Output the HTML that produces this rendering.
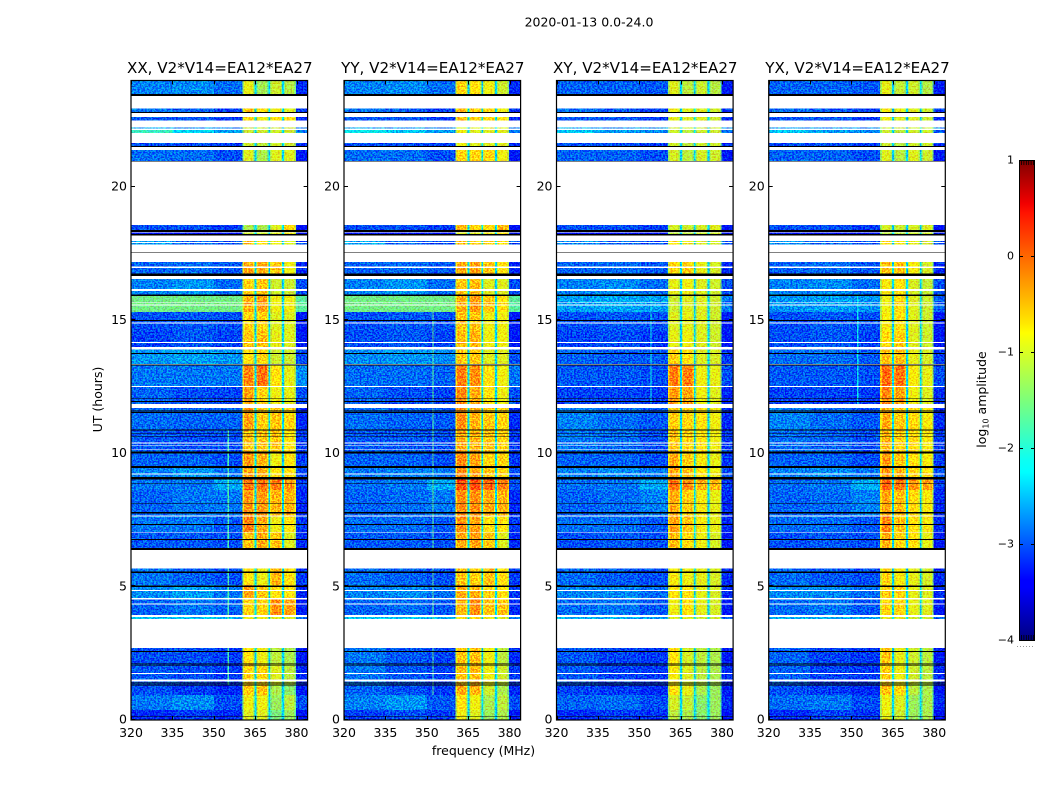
<!DOCTYPE html>
<html lang="en">
<head>
<meta charset="utf-8">
<title>2020-01-13 0.0-24.0</title>
<style>
html,body{margin:0;padding:0;background:#fff;width:1050px;height:800px;overflow:hidden}
svg{display:block}
text{font-family:"DejaVu Sans","Liberation Sans",sans-serif;fill:#000}
</style>
</head>
<body>
<svg id="figure" xmlns="http://www.w3.org/2000/svg" width="1050" height="800" viewBox="0 0 1050 800">
  <rect width="1050" height="800" fill="#fff"/>
  <defs>
    <linearGradient id="jet-gradient" x1="0" y1="1" x2="0" y2="0">
      <stop offset="0" stop-color="#000080"/>
      <stop offset="0.11" stop-color="#0000ff"/>
      <stop offset="0.125" stop-color="#0000ff"/>
      <stop offset="0.35" stop-color="#00ffff"/>
      <stop offset="0.375" stop-color="#0dfff2"/>
      <stop offset="0.5" stop-color="#7dff7a"/>
      <stop offset="0.64" stop-color="#ffff00"/>
      <stop offset="0.66" stop-color="#ffe800"/>
      <stop offset="0.89" stop-color="#ff1300"/>
      <stop offset="0.91" stop-color="#f10000"/>
      <stop offset="1" stop-color="#800000"/>
    </linearGradient>
  </defs>
  <text x="589" y="26.5" text-anchor="middle" font-size="12.5">2020-01-13 0.0-24.0</text>
  <text x="483.5" y="755" text-anchor="middle" font-size="12.5">frequency (MHz)</text>
  <text transform="translate(102,399.5) rotate(-90)" text-anchor="middle" font-size="12.5">UT (hours)</text>
  <text transform="translate(986,399.5) rotate(-90)" text-anchor="middle" font-size="12.5">log<tspan font-size="8" dy="2.5">10</tspan><tspan dy="-2.5"> amplitude</tspan></text>
  <g id="panels"></g>
  <g id="colorbar"></g>
</svg>
<script>
// Values (log10 amplitude).
const panelTitles = ["XX, V2*V14=EA12*EA27", "YY, V2*V14=EA12*EA27", "XY, V2*V14=EA12*EA27", "YX, V2*V14=EA12*EA27"];
const freqTicks = [320, 335, 350, 365, 380];
const hourTicks = [0, 5, 10, 15, 20];
const colorTicks = [1, 0, -1, -2, -3, -4];

// Time ranges holding data (hours); anything else is a white gap.
const timeBands = [
[0.0,0.36],[0.36,0.92],[0.92,1.29],[1.29,2.08],[2.08,2.68],[3.77,3.84],[3.92,4.56],
[4.56,5.05],[5.05,5.67],[6.44,7.04],[7.04,7.64],[7.64,8.61],[8.61,9.02],[9.10,9.51],
[9.51,10.0],[10.0,10.86],[10.86,11.69],[11.84,12.51],[12.51,13.28],[13.34,13.90],
[13.90,14.58],[14.58,15.30],[15.30,15.90],[15.94,16.53],[16.74,17.17],[17.82,17.96],
[18.22,18.27],[18.36,18.56],[20.96,21.37],[21.52,21.63],[22.01,22.12],[22.18,22.22],
[22.47,22.60],[22.80,22.93],[23.47,23.95]
];
// Thin blank and flagged (black) integrations, hours.
const blankTimes = [
[16.94,16.99],[16.07,16.16],[15.62,15.65],[15.54,15.58],[14.85,14.89],[14.13,14.17],
[13.89,13.97],[12.48,12.51],[10.35,10.39],[10.26,10.29],[10.11,10.14],[9.19,9.24],
[7.62,7.66],[6.99,7.02],[4.82,4.86],[4.51,4.55],[4.32,4.36],[1.70,1.74],[1.43,1.51],[17.88,17.91]
];
const flaggedTimes = [
[22.75,22.80],[23.40,23.47],[21.48,21.52],[20.93,20.96],[18.29,18.36],[18.17,18.22],
[17.52,17.54],[16.65,16.74],[15.90,15.94],[14.95,14.99],[13.72,13.75],[13.28,13.33],
[12.02,12.05],[11.91,11.95],[11.56,11.60],[11.51,11.54],[10.85,10.89],[10.71,10.74],
[10.61,10.64],[9.99,10.05],[9.44,9.51],[9.01,9.10],[8.85,8.88],[8.10,8.12],[7.75,7.78],
[7.71,7.73],[7.30,7.34],[6.74,6.77],[6.36,6.44],[5.50,5.55],[4.98,5.03],[2.53,2.57],
[2.07,2.11],[2.00,2.03],[1.36,1.38],[1.28,1.31],[0.11,0.14]
];

// Frequency segments (MHz) and which level column each one shows.
const segStart =  [320,335,350,360.4,361,364.2,364.7,365.4,365.9,369.3,369.8,370.4,370.9,374.3,374.8,375.4,375.9,379.2,379.8];
const segEnd =    [335,350,360.4,361,364.2,364.7,365.4,365.9,369.3,369.8,370.4,370.9,374.3,374.8,375.4,375.9,379.2,379.8,384];
const segColumn = [0,1,2,3,3,3,-1,4,4,4,-1,5,5,5,-1,6,6,6,7];
const segDrop =   [0,0,0,0.45,0,0.35,0,0.35,0,0.35,0,0.35,0,0.35,0,0.35,0,0.4,0];
const notchLevel = -2.3;

// Columns: bg 320-335, bg 335-350, bg 350-360, sub-band 1..4, tail 380-384. One row per time band.
const levelsXX = [
[-3.2,-3.1,-3.2,-.9,-.9,-1.5,-1.3,-3.4],[-2.8,-2.7,-3.0,-.8,-.8,-1.3,-1.1,-3.0],[-3.0,-3.1,-3.2,-.55,-.5,-1.2,-1.4,-3.3],
[-2.95,-3.0,-3.1,-.6,-.6,-.9,-1.1,-3.2],[-3.0,-3.0,-3.1,-.7,-.8,-1.1,-1.2,-3.3],[-2.4,-2.4,-2.5,-.8,-.8,-.9,-.9,-2.8],
[-2.9,-2.8,-2.9,-.6,-.6,-.2,-.3,-3.3],[-2.7,-2.6,-2.8,-.3,-.5,-.7,-.7,-3.2],[-2.8,-2.9,-3.0,-.7,-.8,-.4,-.7,-3.1],
[-2.95,-2.95,-3.0,-.5,-.35,-.5,-.9,-3.2],[-2.8,-2.8,-2.95,-.1,-.35,-.8,-.7,-3.1],[-2.9,-2.8,-2.8,-.25,-.25,-.4,-.4,-3.2],
[-2.8,-2.8,-2.55,-.05,-.05,-.1,-.25,-3.1],[-2.75,-2.65,-2.8,-.3,-.4,-.7,-.7,-3.0],[-2.9,-2.9,-3.0,-.25,-.4,-.8,-.7,-3.1],
[-2.95,-3.0,-3.0,-.5,-.5,-.5,-.7,-3.1],[-2.85,-2.9,-2.9,-.3,-.55,-.5,-.6,-3.2],[-2.9,-3.0,-3.05,-.3,-.6,-.8,-.85,-3.0],
[-2.8,-2.8,-2.8,-.15,-.05,-.7,-.85,-2.7],[-2.65,-2.6,-2.65,-.7,-.6,-1.0,-1.0,-3.0],[-3.05,-2.95,-3.05,-.5,-.45,-.85,-.9,-3.3],
[-3.0,-2.95,-3.0,-.6,-.6,-.9,-.9,-3.3],[-1.55,-1.55,-1.55,-.4,-.3,-.8,-.8,-1.7],[-2.75,-2.65,-2.85,-.6,-.5,-1.0,-1.0,-3.0],
[-2.9,-2.85,-2.95,-.35,-.35,-.5,-.8,-3.2],[-2.6,-2.9,-3.0,-.5,-.7,-.8,-.9,-3.0],[-3.5,-3.5,-3.5,-1.0,-1.0,-.9,-.8,-3.6],
[-3.0,-3.0,-3.1,-1.2,-1.2,-.9,-.6,-3.4],[-2.85,-2.85,-3.0,-.9,-1.2,-.9,-.9,-3.3],[-3.0,-3.0,-3.1,-1.0,-1.1,-1.0,-1.0,-3.2],
[-1.9,-2.3,-2.6,-1.0,-1.0,-1.0,-1.0,-2.8],[-2.6,-2.7,-2.7,-1.0,-1.0,-1.0,-1.0,-2.8],[-2.95,-2.95,-3.1,-.6,-.8,-.7,-.7,-3.2],
[-2.8,-2.9,-3.05,-.5,-.7,-.8,-.9,-3.1],[-2.75,-2.7,-2.85,-.85,-1.25,-1.0,-1.15,-3.2]
];
const levelsYY = [
[-3.1,-3.0,-3.1,-.8,-.9,-1.3,-1.2,-3.3],[-2.75,-2.65,-2.95,-.7,-.8,-1.2,-1.1,-3.0],[-2.9,-3.0,-3.1,-.35,-.4,-1.0,-1.2,-3.2],
[-2.8,-2.95,-3.05,-.45,-.45,-.8,-1.0,-3.1],[-2.8,-2.95,-3.05,-.5,-.45,-.8,-1.1,-3.2],[-2.4,-2.4,-2.5,-.7,-.7,-.8,-.9,-2.8],
[-2.9,-2.85,-2.95,-.4,-.2,-.5,-.5,-3.2],[-2.75,-2.7,-2.85,-.35,-.4,-.6,-.7,-3.1],[-2.85,-2.9,-3.0,-.5,-.6,-.5,-.7,-3.1],
[-2.95,-2.95,-3.0,-.35,-.3,-.5,-.9,-3.2],[-2.85,-2.85,-2.95,-.2,-.3,-.7,-.7,-3.1],[-2.9,-2.85,-2.8,-.2,-.2,-.35,-.4,-3.2],
[-2.85,-2.8,-2.55,.15,.15,.05,-.1,-3.0],[-2.8,-2.75,-2.8,-.15,-.3,-.5,-.6,-3.0],[-2.9,-2.9,-3.0,-.15,-.3,-.6,-.6,-3.1],
[-2.95,-2.95,-3.0,-.35,-.4,-.5,-.6,-3.1],[-2.85,-2.9,-2.95,-.2,-.4,-.5,-.6,-3.2],[-2.9,-3.0,-3.05,-.15,-.35,-.7,-.8,-3.0],
[-2.85,-2.85,-2.9,-.1,-.2,-.7,-.8,-2.8],[-2.7,-2.65,-2.7,-.5,-.5,-.9,-.9,-3.0],[-3.0,-2.95,-3.05,-.45,-.4,-.8,-.8,-3.3],
[-3.0,-2.95,-3.0,-.5,-.5,-.8,-.8,-3.3],[-1.55,-1.55,-1.55,-.35,-.25,-.5,-.7,-1.7],[-2.75,-2.65,-2.85,-.5,-.45,-.9,-.9,-3.0],
[-2.9,-2.85,-2.95,-.3,-.3,-.5,-.7,-3.2],[-2.6,-2.9,-3.0,-.4,-.5,-.6,-.7,-3.0],[-3.5,-3.5,-3.5,-.9,-.9,-.8,-.7,-3.6],
[-3.0,-3.0,-3.1,-.4,-.6,-.6,-.4,-3.4],[-2.85,-2.85,-3.0,-.6,-.6,-.6,-.8,-3.3],[-3.0,-3.0,-3.1,-.8,-.9,-.9,-.9,-3.2],
[-2.2,-2.4,-2.6,-.8,-.9,-.9,-.9,-2.8],[-2.6,-2.7,-2.7,-.9,-.9,-.9,-.9,-2.8],[-2.95,-2.95,-3.1,-.45,-.6,-.6,-.7,-3.2],
[-2.8,-2.9,-3.05,-.4,-.5,-.6,-.8,-3.1],[-2.75,-2.7,-2.85,-.6,-.7,-.8,-1.0,-3.2]
];
const levelsXY = [
[-3.2,-3.1,-3.15,-1.1,-1.2,-1.4,-1.3,-3.4],[-2.9,-2.85,-3.0,-.95,-1.05,-1.4,-1.3,-3.2],[-3.05,-3.1,-3.2,-.7,-.85,-1.2,-1.3,-3.3],
[-2.95,-3.05,-3.1,-.75,-.9,-1.1,-1.2,-3.2],[-2.95,-3.05,-3.1,-.7,-.95,-1.1,-1.2,-3.3],[-2.5,-2.5,-2.6,-.9,-.9,-1.0,-1.0,-2.9],
[-2.85,-2.8,-2.95,-.8,-.7,-.85,-.95,-3.3],[-2.75,-2.7,-2.85,-.7,-.7,-.85,-.95,-3.2],[-2.85,-2.95,-3.0,-.75,-.8,-.85,-.95,-3.2],
[-3.0,-2.95,-3.0,-.45,-.65,-.8,-.95,-3.3],[-2.85,-2.85,-2.95,-.3,-.5,-.75,-.85,-3.2],[-2.9,-2.85,-2.75,-.35,-.55,-.75,-.85,-3.2],
[-2.85,-2.8,-2.55,-.05,-.15,-.4,-.45,-3.1],[-2.75,-2.7,-2.8,-.3,-.5,-.7,-.8,-3.0],[-2.9,-2.9,-3.0,-.35,-.55,-.75,-.85,-3.1],
[-2.8,-2.85,-3.0,-.5,-.6,-.7,-.8,-3.1],[-2.75,-2.85,-2.95,-.55,-.6,-.7,-.8,-3.2],[-3.05,-3.05,-3.1,-.25,-.3,-.8,-.9,-3.2],
[-2.95,-2.95,-3.0,-.1,-.1,-.8,-.85,-3.0],[-2.9,-2.95,-2.95,-.55,-.7,-.9,-.95,-3.1],[-3.05,-3.0,-3.1,-.85,-.8,-.9,-1.0,-3.3],
[-3.0,-2.95,-3.0,-.9,-.85,-.9,-1.0,-3.3],[-2.6,-2.55,-2.6,-1.0,-.9,-.9,-1.0,-2.8],[-2.75,-2.7,-2.85,-.85,-.8,-.9,-1.0,-3.0],
[-2.9,-2.85,-2.95,-.6,-.55,-.85,-.95,-3.2],[-2.7,-2.9,-3.0,-.7,-.8,-.9,-.95,-3.0],[-3.5,-3.5,-3.5,-1.1,-1.1,-1.0,-1.0,-3.6],
[-3.0,-3.0,-3.1,-.95,-1.0,-.95,-.9,-3.4],[-2.9,-2.9,-3.0,-.95,-1.1,-.95,-1.0,-3.3],[-3.0,-3.0,-3.1,-1.0,-1.1,-1.0,-1.0,-3.2],
[-2.4,-2.6,-2.7,-1.0,-1.1,-1.0,-1.0,-2.9],[-2.6,-2.7,-2.7,-1.0,-1.0,-1.0,-1.0,-2.8],[-2.95,-2.95,-3.1,-.85,-.9,-.9,-1.0,-3.2],
[-2.85,-2.95,-3.05,-.8,-.9,-.9,-1.0,-3.1],[-2.9,-2.9,-2.95,-.9,-1.1,-1.0,-1.15,-3.3]
];
const levelsYX = [
[-3.2,-3.05,-3.15,-.85,-1.0,-1.3,-1.2,-3.4],[-2.85,-2.8,-3.0,-.8,-.9,-1.3,-1.2,-3.2],[-3.0,-3.1,-3.2,-.45,-.6,-1.1,-1.2,-3.3],
[-2.9,-3.05,-3.1,-.55,-.8,-1.0,-1.1,-3.2],[-2.9,-3.05,-3.1,-.5,-.85,-1.0,-1.1,-3.3],[-2.5,-2.5,-2.6,-.85,-.85,-1.0,-1.0,-2.9],
[-2.85,-2.8,-2.95,-.6,-.6,-.85,-.9,-3.3],[-2.7,-2.7,-2.85,-.55,-.6,-.85,-.9,-3.2],[-2.85,-2.95,-3.0,-.6,-.75,-.85,-.95,-3.2],
[-3.0,-2.95,-3.0,-.35,-.6,-.7,-.85,-3.3],[-2.85,-2.85,-2.95,-.15,-.45,-.7,-.75,-3.2],[-2.9,-2.85,-2.75,-.3,-.45,-.65,-.75,-3.2],
[-2.85,-2.8,-2.55,.05,-.05,-.25,-.3,-3.1],[-2.75,-2.7,-2.8,-.2,-.4,-.6,-.7,-3.0],[-2.9,-2.9,-3.0,-.25,-.5,-.7,-.75,-3.1],
[-2.85,-2.9,-3.0,-.4,-.55,-.65,-.75,-3.1],[-2.75,-2.85,-2.95,-.35,-.5,-.65,-.75,-3.2],[-3.05,-3.05,-3.1,-.15,-.3,-.8,-.9,-3.2],
[-2.95,-2.95,-3.0,0,-.05,-.75,-.85,-3.0],[-2.85,-2.85,-2.95,-.45,-.45,-.85,-.95,-3.1],[-3.0,-2.95,-3.05,-.65,-.55,-.9,-1.0,-3.3],
[-3.0,-2.95,-3.0,-.75,-.7,-.9,-1.0,-3.3],[-2.65,-2.6,-2.65,-.8,-.65,-.9,-1.0,-2.9],[-2.75,-2.7,-2.85,-.75,-.7,-.95,-1.05,-3.0],
[-2.9,-2.85,-2.95,-.45,-.45,-.75,-.95,-3.2],[-2.7,-2.9,-3.0,-.65,-.75,-.85,-.95,-3.0],[-3.5,-3.5,-3.5,-1.1,-1.1,-1.0,-1.0,-3.6],
[-3.0,-3.0,-3.1,-.95,-1.0,-.95,-.9,-3.4],[-2.9,-2.9,-3.0,-.9,-1.1,-.9,-1.0,-3.3],[-3.0,-3.0,-3.1,-1.0,-1.1,-1.0,-1.0,-3.2],
[-2.4,-2.6,-2.7,-1.0,-1.1,-1.0,-1.0,-2.9],[-2.6,-2.7,-2.7,-1.0,-1.0,-1.0,-1.0,-2.8],[-2.95,-2.95,-3.1,-.8,-.9,-.9,-1.0,-3.2],
[-2.85,-2.95,-3.05,-.75,-.85,-.9,-1.0,-3.1],[-2.9,-2.9,-2.95,-.85,-1.05,-1.0,-1.15,-3.3]
];
const panelLevels = [levelsXX, levelsYY, levelsXY, levelsYX];

// Narrow interference lines, one list per panel: [MHz, start hour, end hour, level].
const spursXX = [[355,1.5,10.6,-1.8]];
const spursYY = [[352,1.0,15.2,-1.7]];
const spursXY = [[354,12.5,15.5,-2.2]];
const spursYX = [[352,12.5,15.5,-2.2]];
const panelSpurs = [spursXX, spursYY, spursXY, spursYX];

const NS = "http://www.w3.org/2000/svg";
const panelLeft = [131, 344, 556.5, 768.7];
const panelWidth = 176.6;
const plotTop = 80.5;
const plotBottom = 719.5;
const colorbarLeft = 1019, colorbarRight = 1035, colorbarTop = 160, colorbarBottom = 640;

function xScale(p, mhz) { return panelLeft[p] + (mhz - 320) / 64 * panelWidth; }
function yScale(hour) { return plotBottom - hour * 26.65; }
function colorbarY(v) { return colorbarBottom - (v + 4) / 5 * (colorbarBottom - colorbarTop); }

function ramp(p, a, va, b, vb) { return va + (vb - va) * (p - a) / (b - a); }
function jet(v) {
  const p = Math.min(1, Math.max(0, (v + 4) / 5));
  const r = p < .35 ? 0 : p < .66 ? ramp(p, .35, 0, .66, 1) : p < .89 ? 1 : ramp(p, .89, 1, 1, .5);
  const g = p < .125 ? 0 : p < .375 ? ramp(p, .125, 0, .375, 1) : p < .64 ? 1 : p < .91 ? ramp(p, .64, 1, .91, 0) : 0;
  const b = p < .11 ? ramp(p, 0, .5, .11, 1) : p < .34 ? 1 : p < .65 ? ramp(p, .34, 1, .65, 0) : 0;
  return "rgb(" + Math.round(r * 255) + "," + Math.round(g * 255) + "," + Math.round(b * 255) + ")";
}
function make(tag, attrs, parent) {
  const el = document.createElementNS(NS, tag);
  for (const k in attrs) el.setAttribute(k, attrs[k]);
  parent.appendChild(el);
  return el;
}

const panelsRoot = document.getElementById("panels");
const defs = document.querySelector("defs");

panelTitles.forEach(function (title, p) {
  const left = panelLeft[p], right = left + panelWidth;
  const panel = make("g", {}, panelsRoot);
  
  

  const filter = make("filter", {id: "speckle-" + p, filterUnits: "userSpaceOnUse", x: left, y: plotTop, width: panelWidth, height: plotBottom - plotTop, "color-interpolation-filters": "sRGB"}, defs);
  make("feTurbulence", {type: "fractalNoise", baseFrequency: "0.55 0.65", numOctaves: 2, seed: 3 + p * 7, result: "n"}, filter);
  make("feColorMatrix", {"in": "n", type: "matrix", values: "0 0 0 0 .5  3.8 0 0 0 -1.4  0 1.6 0 0 -.3  0 0 0 0 1", result: "c"}, filter);
  make("feComposite", {"in": "SourceGraphic", in2: "c", operator: "arithmetic", k1: 0, k2: 1, k3: .5, k4: -.25, result: "m"}, filter);
  make("feComposite", {"in": "m", in2: "SourceAlpha", operator: "in"}, filter);

  const cells = make("g", {filter: "url(#speckle-" + p + ")", "shape-rendering": "crispEdges"}, panel);
  
  

  timeBands.forEach(function (band, b) {
    const rowY = yScale(band[1]);
    const rowH = yScale(band[0]) - rowY;
    segStart.forEach(function (start, s) {
      const col = segColumn[s];
      const level = col < 0 ? notchLevel : panelLevels[p][b][col] - segDrop[s];
      const x0 = xScale(p, start), x1 = xScale(p, segEnd[s]);
      const cell = make("rect", {x: x0, y: rowY, width: x1 - x0, height: rowH, fill: jet(level)}, cells);
      
      
    });
    panelSpurs[p].forEach(function (spur) {
      if (band[1] <= spur[1] || band[0] >= spur[2]) return;
      const line = make("rect", {x: xScale(p, spur[0]), y: rowY, width: 1.4, height: rowH, fill: jet(spur[3])}, cells);
      
      
    });
  });

  const overlays = make("g", {"shape-rendering": "crispEdges"}, panel);
  
  
  blankTimes.forEach(function (t) {
    const r = make("rect", {x: left, y: yScale(t[1]), width: panelWidth, height: yScale(t[0]) - yScale(t[1]), fill: "#fff"}, overlays);
    
    
  });
  flaggedTimes.forEach(function (t) {
    const r = make("rect", {x: left, y: yScale(t[1]), width: panelWidth, height: yScale(t[0]) - yScale(t[1]), fill: "#000"}, overlays);
    
    
  });

  const frame = make("rect", {x: left, y: plotTop, width: panelWidth, height: 720 - plotTop, fill: "none", stroke: "#000", "stroke-width": 1.2}, panel);
  
  

  freqTicks.forEach(function (f) {
    const x = Math.round(xScale(p, f)) + .5;
    const bottom = make("line", {x1: x, x2: x, y1: 720, y2: 716, stroke: "#000"}, panel);
    
    
    const top = make("line", {x1: x, x2: x, y1: plotTop, y2: plotTop + 4, stroke: "#000"}, panel);
    
    
    const label = make("text", {x: xScale(p, f), y: 737, "text-anchor": "middle", "font-size": 12.5}, panel);
    label.textContent = String(f);
    
    
  });
  hourTicks.forEach(function (h) {
    const y = Math.round(yScale(h)) - .5;
    const l = make("line", {x1: left, x2: left + 4, y1: y, y2: y, stroke: "#000"}, panel);
    
    
    const r = make("line", {x1: right, x2: right - 4, y1: y, y2: y, stroke: "#000"}, panel);
    
    
    const label = make("text", {x: left - 4, y: yScale(h) + 4, "text-anchor": "end", "font-size": 12.5}, panel);
    label.textContent = String(h);
    
    
  });

  const heading = make("text", {x: left + panelWidth / 2 + .5, y: 73, "text-anchor": "middle", "font-size": 15.1}, panel);
  heading.textContent = title;
  
  
});

const colorbar = document.getElementById("colorbar");
const bar = make("rect", {x: colorbarLeft, y: colorbarTop, width: colorbarRight - colorbarLeft, height: colorbarBottom - colorbarTop, fill: "url(#jet-gradient)"}, colorbar);


for (let x = colorbarLeft + 2.5; x < colorbarRight; x += 2.4) {
  const a = make("line", {x1: x, x2: x, y1: colorbarTop, y2: colorbarTop + 5, stroke: "#000", "stroke-width": .8}, colorbar);
  
  
  const c = make("line", {x1: x, x2: x, y1: colorbarBottom, y2: colorbarBottom - 5, stroke: "#000", "stroke-width": .8}, colorbar);
  
  
}
const barFrame = make("rect", {x: colorbarLeft + .5, y: colorbarTop + .5, width: colorbarRight - colorbarLeft - 1, height: colorbarBottom - colorbarTop, fill: "none", stroke: "#000"}, colorbar);


colorTicks.forEach(function (v) {
  const y = Math.round(colorbarY(v)) + .5;
  const l = make("line", {x1: colorbarLeft, x2: colorbarLeft + 4, y1: y, y2: y, stroke: "#000"}, colorbar);
  
  
  const r = make("line", {x1: colorbarRight, x2: colorbarRight - 4, y1: y, y2: y, stroke: "#000"}, colorbar);
  
  
  const label = make("text", {x: colorbarLeft - 5, y: colorbarY(v) + 3.5, "text-anchor": "end", "font-size": 11}, colorbar);
  label.textContent = v < 0 ? "\u2212" + Math.abs(v) : String(v);
  
  
});
const dots = make("line", {x1: 1017, x2: 1035, y1: 646.5, y2: 646.5, stroke: "#999", "stroke-dasharray": "1 2"}, colorbar);


</script>
</body>
</html>
